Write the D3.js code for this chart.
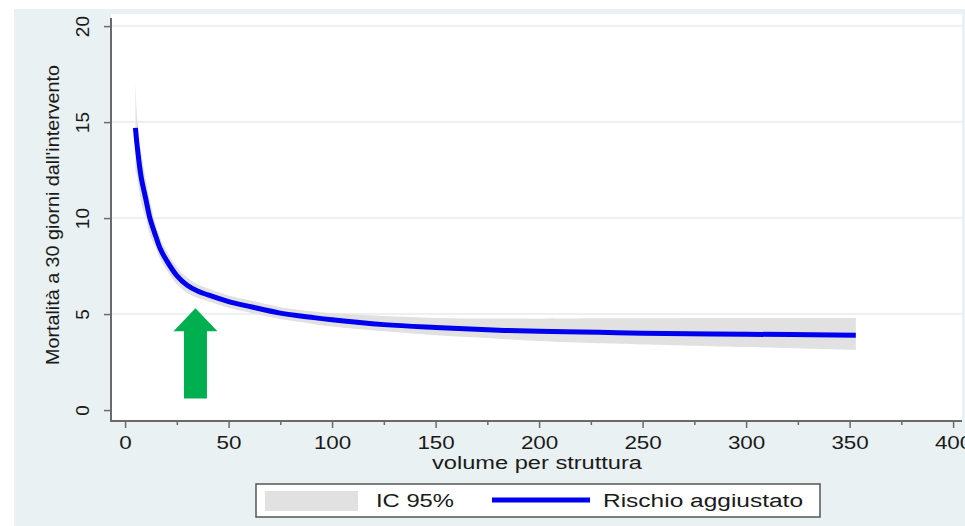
<!DOCTYPE html>
<html>
<head>
<meta charset="utf-8">
<script src="https://d3js.org/d3.v7.min.js"></script>
<style>
  body { margin: 0; background: #fff; }
  text { font-family: "Liberation Sans", Arial, sans-serif; fill: #1a1a1a; }
</style>
</head>
<body>
<script>
// Mortalita' a 30 giorni vs volume per struttura (curva Stata con IC 95%)

var volume  = [5, 5.5, 6, 7, 8, 10, 12, 15, 17, 20, 25, 30, 35, 40, 50, 60, 75, 90, 100, 125, 150, 175, 200, 229, 250, 300, 353];
var rischio = [14.7, 14.1, 13.6, 12.7, 12.0, 11.0, 10.0, 9.0, 8.4, 7.8, 7.0, 6.5, 6.2, 6.0, 5.65, 5.4, 5.05, 4.83, 4.7, 4.45, 4.3, 4.18, 4.1, 4.05, 4.0, 3.95, 3.9];
var icSup   = [17.2, 15.8, 15.0, 14.0, 13.3, 12.0, 10.9, 9.6, 8.95, 8.3, 7.45, 6.9, 6.55, 6.33, 5.97, 5.72, 5.36, 5.15, 5.05, 4.9, 4.8, 4.77, 4.76, 4.78, 4.78, 4.79, 4.8];
var icInf   = [12.4, 12.3, 12.0, 11.3, 10.7, 10.0, 9.1, 8.4, 7.85, 7.3, 6.55, 6.1, 5.85, 5.67, 5.33, 5.08, 4.74, 4.5, 4.35, 4.1, 3.9, 3.75, 3.6, 3.48, 3.42, 3.28, 3.12];

var xTicks = [0, 50, 100, 150, 200, 250, 300, 350, 400];
var xMinor = [25, 75, 125, 175, 225, 275, 325, 375];
var yTicks = [0, 5, 10, 15, 20];
var yGrid  = [5, 10, 15, 20];

var xTitle = "volume per struttura";
var yTitle = "Mortalità a 30 giorni dall'intervento";
var legendLabels = ["IC 95%", "Rischio aggiustato"];

// freccia verde (in unita' dei dati)
var arrowX = 34, arrowFrom = 0.6, arrowTo = 5.3;

var W = 965, H = 526;
var svg = d3.select("body").append("svg").attr("width", W).attr("height", H);

// sfondo grafico (ltbluishgray)
svg.append("rect").attr("x", 14).attr("y", 9).attr("width", W - 14).attr("height", H - 9)
  .attr("fill", "#eaf1f3");

var plot = {left: 111, right: 962, top: 14, bottom: 421};
svg.append("rect").attr("x", plot.left).attr("y", plot.top)
  .attr("width", plot.right - plot.left).attr("height", plot.bottom - plot.top)
  .attr("fill", "#fff");

var x = d3.scaleLinear().domain([-6.8, 404.3]).range([plot.left, plot.right]);
var y = d3.scaleLinear().domain([-0.57, 20.63]).range([plot.bottom, plot.top]);

// allarga il testo in orizzontale (l'immagine e' stirata)
function stretch(sel, k) {
  sel.each(function() {
    var w = this.getComputedTextLength();
    d3.select(this).attr("textLength", w * k).attr("lengthAdjust", "spacingAndGlyphs");
  });
}

// griglia
svg.selectAll(".grid").data(yGrid).enter().append("line")
  .attr("x1", plot.left + 1).attr("x2", plot.right)
  .attr("y1", d => y(d)).attr("y2", d => y(d))
  .attr("stroke", "#e4ecee").attr("stroke-width", 1.5);

var data = volume.map((v, i) => ({x: v, y: rischio[i], lo: icInf[i], hi: icSup[i]}));

// banda IC
svg.append("path").datum(data)
  .attr("fill", "#e1e1e1")
  .attr("d", d3.area().x(d => x(d.x)).y0(d => y(d.lo)).y1(d => y(d.hi)).curve(d3.curveCatmullRom));

// curva rischio
svg.append("path").datum(data)
  .attr("fill", "none").attr("stroke", "#0000f0").attr("stroke-width", 5)
  .attr("d", d3.line().x(d => x(d.x)).y(d => y(d.y)).curve(d3.curveCatmullRom));

// assi
var axisCol = "#6a6a6a";
var gx = svg.append("g").attr("transform", `translate(0,${plot.bottom})`)
  .call(d3.axisBottom(x).tickValues(xTicks).tickSize(7).tickFormat(d3.format("d")));
gx.select(".domain").remove();
gx.selectAll(".tick line").attr("stroke", axisCol).attr("stroke-width", 1.5);
gx.selectAll(".tick text").attr("dy", 0).attr("y", 28).style("font-size", "19px")
  .style("font-family", "Liberation Sans, Arial, sans-serif").attr("fill", "#1a1a1a")
  .call(stretch, 1.18);
svg.append("g").attr("transform", `translate(0,${plot.bottom})`)
  .call(d3.axisBottom(x).tickValues(xMinor).tickSize(4).tickFormat(""))
  .call(g => g.select(".domain").remove())
  .selectAll(".tick line").attr("stroke", axisCol).attr("stroke-width", 1.5);
svg.append("line").attr("x1", plot.left).attr("x2", plot.right)
  .attr("y1", plot.bottom).attr("y2", plot.bottom).attr("stroke", axisCol).attr("stroke-width", 2);

var gy = svg.append("g").attr("transform", `translate(${plot.left},0)`)
  .call(d3.axisLeft(y).tickValues(yTicks).tickSize(7).tickFormat(d3.format("d")));
gy.select(".domain").remove();
gy.selectAll(".tick line").attr("stroke", axisCol).attr("stroke-width", 1.5);
gy.selectAll(".tick text").remove();
gy.selectAll(".tick").append("text")
  .attr("transform", "translate(-22,0) rotate(-90)")
  .attr("text-anchor", "middle").attr("dy", 0)
  .style("font-size", "19px").style("font-family", "Liberation Sans, Arial, sans-serif")
  .attr("fill", "#1a1a1a")
  .text(d => d);
svg.append("line").attr("x1", plot.left).attr("x2", plot.left)
  .attr("y1", plot.top + 4).attr("y2", plot.bottom + 1).attr("stroke", axisCol).attr("stroke-width", 2);

// titoli
svg.append("text").attr("x", 537).attr("y", 469).attr("text-anchor", "middle")
  .style("font-size", "17.5px").text(xTitle)
  .attr("textLength", 210).attr("lengthAdjust", "spacingAndGlyphs");
svg.append("text").attr("transform", "translate(59,215) rotate(-90)")
  .attr("text-anchor", "middle").style("font-size", "17.5px").text(yTitle)
  .attr("textLength", 300).attr("lengthAdjust", "spacingAndGlyphs");

// freccia verde
var ax = x(arrowX), aTop = y(arrowTo), aBot = y(arrowFrom);
var headH = 23, headW = 22, shaftW = 11.5;
svg.append("path")
  .attr("d", d3.line()([
    [ax, aTop], [ax + headW, aTop + headH], [ax + shaftW, aTop + headH], [ax + shaftW, aBot],
    [ax - shaftW, aBot], [ax - shaftW, aTop + headH], [ax - headW, aTop + headH]
  ]) + "Z")
  .attr("fill", "#00b050");

// legenda
var leg = svg.append("g");
leg.append("rect").attr("x", 256).attr("y", 484).attr("width", 564).attr("height", 33)
  .attr("fill", "#fff").attr("stroke", "#555").attr("stroke-width", 1.5);
leg.append("rect").attr("x", 265).attr("y", 491).attr("width", 93).attr("height", 20)
  .attr("fill", "#e1e1e1");
leg.append("text").attr("x", 376).attr("y", 507).style("font-size", "18px")
  .text(legendLabels[0]).attr("textLength", 78).attr("lengthAdjust", "spacingAndGlyphs");
leg.append("line").attr("x1", 492).attr("x2", 590).attr("y1", 500).attr("y2", 500)
  .attr("stroke", "#0000f0").attr("stroke-width", 5);
leg.append("text").attr("x", 603).attr("y", 507).style("font-size", "18px")
  .text(legendLabels[1]).attr("textLength", 200).attr("lengthAdjust", "spacingAndGlyphs");
</script>
</body>
</html>
